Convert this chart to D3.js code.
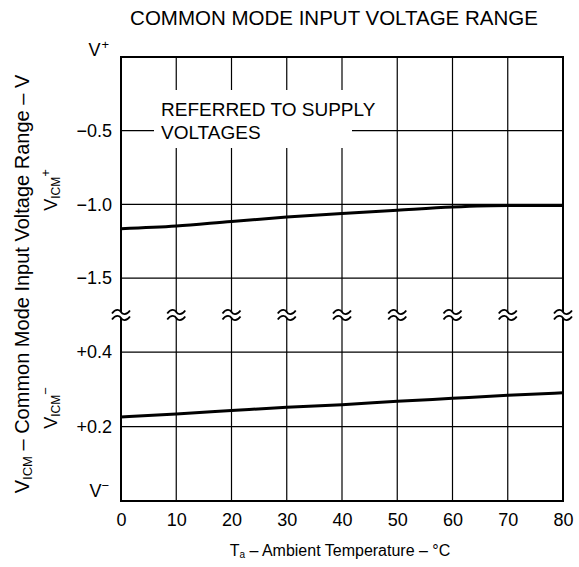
<!DOCTYPE html>
<html>
<head>
<meta charset="utf-8">
<script src="https://cdn.jsdelivr.net/npm/d3@7"></script>
<style>
  body { margin: 0; background: #fff; }
  text { font-family: "Liberation Sans", Arial, sans-serif; fill: #000; }
</style>
</head>
<body>
<div id="chart"></div>
<script>
// temperatures (deg C) and common mode limits
var temps = [0, 10, 20, 30, 40, 50, 60, 70, 80];
var vicmPlus = [-1.165, -1.147, -1.115, -1.086, -1.061, -1.039, -1.018, -1.008, -1.008]; // relative to V+
var vicmMinus = [0.226, 0.234, 0.243, 0.252, 0.259, 0.268, 0.276, 0.284, 0.291];      // relative to V-
var upperTicks = [-0.5, -1.0, -1.5];
var upperLabels = ["\u22120.5", "\u22121.0", "\u22121.5"];
var lowerTicks = [0.4, 0.2];
var lowerLabels = ["+0.4", "+0.2"];
var xTicks = [0, 10, 20, 30, 40, 50, 60, 70, 80];

var width = 579, height = 567;
var pLeft = 121, pRight = 563, pTop = 57, pBottom = 501, brk = 315;

var svg = d3.select("#chart").append("svg")
    .attr("width", width)
    .attr("height", height);

var x = d3.scaleLinear().domain([0, 80]).range([pLeft, pRight]);
var yUp = d3.scaleLinear().domain([-1.75, 0]).range([brk, pTop]);
var yLo = d3.scaleLinear().domain([0, 0.5]).range([pBottom, brk]);

// title
svg.append("text")
    .attr("x", 334).attr("y", 25)
    .attr("text-anchor", "middle")
    .attr("font-size", "20.5px")
    .text("COMMON MODE INPUT VOLTAGE RANGE");

// grid lines
var grid = svg.append("g").attr("stroke", "#000").attr("stroke-width", 1.2);

grid.selectAll(".vgrid")
    .data(xTicks.slice(1, -1))
    .enter().append("line")
    .attr("class", "vgrid")
    .attr("x1", function (d) { return x(d); })
    .attr("x2", function (d) { return x(d); })
    .attr("y1", pTop).attr("y2", pBottom);

grid.selectAll(".hup")
    .data(upperTicks)
    .enter().append("line")
    .attr("class", "hup")
    .attr("x1", pLeft).attr("x2", pRight)
    .attr("y1", function (d) { return yUp(d); })
    .attr("y2", function (d) { return yUp(d); });

grid.selectAll(".hlo")
    .data(lowerTicks)
    .enter().append("line")
    .attr("class", "hlo")
    .attr("x1", pLeft).attr("x2", pRight)
    .attr("y1", function (d) { return yLo(d); })
    .attr("y2", function (d) { return yLo(d); });

// white box behind the note
svg.append("rect")
    .attr("x", 154).attr("y", 90)
    .attr("width", 198).attr("height", 58)
    .attr("fill", "#fff");

svg.append("text")
    .attr("x", 161).attr("y", 116)
    .attr("font-size", "19px")
    .text("REFERRED TO SUPPLY");
svg.append("text")
    .attr("x", 161).attr("y", 139)
    .attr("font-size", "19px")
    .text("VOLTAGES");

// frame
svg.append("rect")
    .attr("x", pLeft).attr("y", pTop)
    .attr("width", pRight - pLeft).attr("height", pBottom - pTop)
    .attr("fill", "none")
    .attr("stroke", "#000")
    .attr("stroke-width", 2);

// curves
var lineUp = d3.line()
    .x(function (d, i) { return x(temps[i]); })
    .y(function (d) { return yUp(d); })
    .curve(d3.curveMonotoneX);
var lineLo = d3.line()
    .x(function (d, i) { return x(temps[i]); })
    .y(function (d) { return yLo(d); })
    .curve(d3.curveMonotoneX);

svg.append("path")
    .attr("d", lineUp(vicmPlus))
    .attr("fill", "none").attr("stroke", "#000").attr("stroke-width", 3);
svg.append("path")
    .attr("d", lineLo(vicmMinus))
    .attr("fill", "none").attr("stroke", "#000").attr("stroke-width", 3);

// axis break marks on every vertical line
var breaks = svg.selectAll(".brk")
    .data(xTicks)
    .enter().append("g")
    .attr("class", "brk")
    .attr("transform", function (d) { return "translate(" + x(d) + "," + brk + ")"; });

breaks.append("rect")
    .attr("x", -9).attr("y", -3)
    .attr("width", 18).attr("height", 6)
    .attr("fill", "#fff");

breaks.selectAll("path")
    .data([-3, 3])
    .enter().append("path")
    .attr("d", function (o) {
        return "M-9," + (o + 1.5) + " C-5," + (o - 4) + " -1," + (o - 2) + " 0," + o +
               " S5," + (o + 4) + " 9," + (o - 1.5);
    })
    .attr("fill", "none")
    .attr("stroke", "#000")
    .attr("stroke-width", 1.8);

// y axis labels
var axUp = d3.axisLeft(yUp)
    .tickValues(upperTicks)
    .tickFormat(function (d, i) { return upperLabels[i]; })
    .tickSize(0).tickPadding(9);
var axLo = d3.axisLeft(yLo)
    .tickValues(lowerTicks)
    .tickFormat(function (d, i) { return lowerLabels[i]; })
    .tickSize(0).tickPadding(9);
var axX = d3.axisBottom(x)
    .tickValues(xTicks)
    .tickSize(0).tickPadding(12);

[svg.append("g").attr("transform", "translate(" + pLeft + ",0)").call(axUp),
 svg.append("g").attr("transform", "translate(" + pLeft + ",0)").call(axLo),
 svg.append("g").attr("transform", "translate(0," + pBottom + ")").call(axX)]
.forEach(function (g) {
    g.select(".domain").remove();
    g.selectAll("text")
        .attr("font-size", "18px")
        .attr("font-family", "Liberation Sans, Arial, sans-serif")
        .attr("fill", "#000");
});

// V+ / V- end labels
var vp = svg.append("text")
    .attr("x", pLeft - 12).attr("y", pTop - 1)
    .attr("text-anchor", "end")
    .attr("font-size", "18px");
vp.append("tspan").text("V");
vp.append("tspan").attr("font-size", "13px").attr("dy", -7).attr("dx", 1).text("+");

var vm = svg.append("text")
    .attr("x", pLeft - 12).attr("y", pBottom - 4)
    .attr("text-anchor", "end")
    .attr("font-size", "18px");
vm.append("tspan").text("V");
vm.append("tspan").attr("font-size", "13px").attr("dy", -7).text("\u2212");

// rotated VICM+ / VICM- labels
function vicmLabel(cy, sign) {
    var t = svg.append("text")
        .attr("transform", "translate(57," + cy + ") rotate(-90)")
        .attr("text-anchor", "middle")
        .attr("font-size", "18px");
    t.append("tspan").text("V");
    t.append("tspan").attr("font-size", "12px").attr("dy", 3).text("ICM");
    t.append("tspan").attr("font-size", "13px").attr("dy", -10).text(sign);
}
vicmLabel(190, "+");
vicmLabel(408, "\u2212");

// y axis title
var yt = svg.append("text")
    .attr("transform", "translate(29,284) rotate(-90)")
    .attr("text-anchor", "middle")
    .attr("font-size", "20px");
yt.append("tspan").text("V");
yt.append("tspan").attr("font-size", "13px").attr("dy", 3).text("ICM");
yt.append("tspan").attr("dy", -3).text(" \u2013 Common Mode Input Voltage Range \u2013 V");

// x axis title
var xt = svg.append("text")
    .attr("x", 340).attr("y", 556)
    .attr("text-anchor", "middle")
    .attr("font-size", "16px");
xt.append("tspan").text("T");
xt.append("tspan").attr("font-size", "10px").attr("dy", 2).text("a");
xt.append("tspan").attr("dy", -2).text(" \u2013 Ambient Temperature \u2013 \u00b0C");
</script>
</body>
</html>
